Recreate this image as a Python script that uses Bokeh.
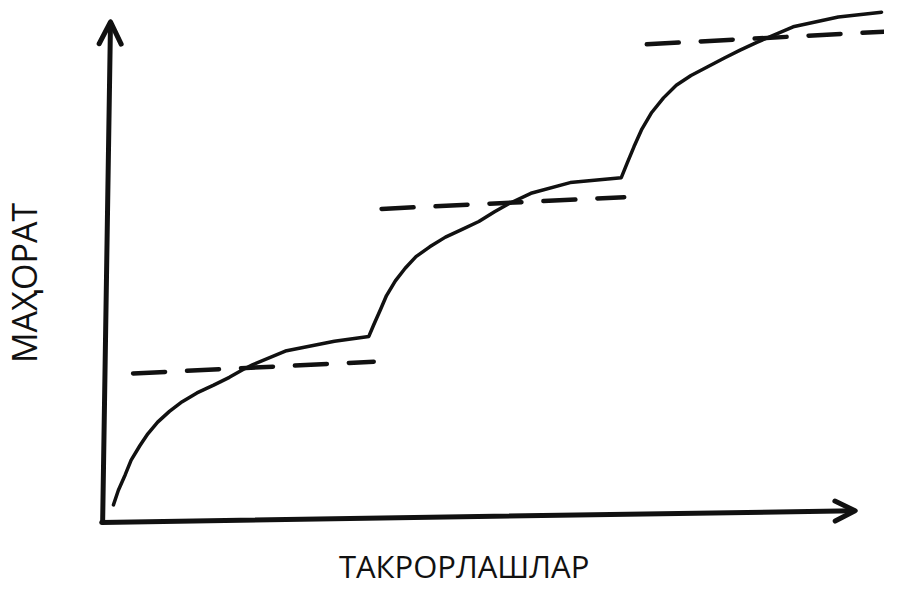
from bokeh.plotting import figure
from bokeh.models import Range1d, Arrow, OpenHead
from bokeh.core.properties import value
from bokeh.embed import file_html
from bokeh.resources import INLINE

# Learning curve (repetitions vs. skill)
curve_x = [12, 17, 24, 30, 39, 47, 57, 69, 82, 97, 114, 130, 144, 154, 187, 237, 272,
           277, 284, 290, 299, 309, 320, 334, 350, 367, 384, 400, 414, 437, 477, 529,
           535, 542, 550, 560, 572, 585, 600, 617, 634, 650, 667, 704, 750, 794]
curve_y = [17, 32, 48, 63, 78, 90, 102, 113, 123, 132, 140, 148, 156, 161, 175, 185, 190,
           202, 218, 232, 247, 260, 272, 282, 292, 300, 308, 318, 326, 337, 348, 353,
           368, 385, 403, 420, 435, 448, 458, 467, 476, 484, 492, 508, 518, 523]

# Plateau levels (dashed)
plateau_x0 = [32, 285, 555]
plateau_x1 = [277, 532, 797]
plateau_y0 = [152, 321, 490]
plateau_y1 = [164, 333, 503]

# Axes (hand-drawn, slightly tilted)
yaxis_start = (1, 0)
yaxis_end = (9, 513)
xaxis_start = (0, -1)
xaxis_end = (767, 11)

x_label = "ТАКРОРЛАШЛАР"
y_label = "МАҲОРАТ"
x_label_pos = (369, -46)
y_label_pos = (-79, 245)

INK = "#111111"

p = figure(width=884, height=593, output_backend="svg", toolbar_location=None,
           x_range=Range1d(-103, 797), y_range=Range1d(-74, 535),
           min_border=0, background_fill_color="white", border_fill_color="white")
p.axis.visible = False
p.grid.visible = False
p.outline_line_color = None

# axes with arrows
p.add_layout(Arrow(end=OpenHead(size=22, line_width=5, line_color=INK, line_cap="round", line_join="round"),
                   x_start=yaxis_start[0], y_start=yaxis_start[1], x_end=yaxis_end[0], y_end=yaxis_end[1],
                   line_width=5, line_color=INK, line_cap="round"))
p.add_layout(Arrow(end=OpenHead(size=20, line_width=5, line_color=INK, line_cap="round", line_join="round"),
                   x_start=xaxis_start[0], y_start=xaxis_start[1], x_end=xaxis_end[0], y_end=xaxis_end[1],
                   line_width=5, line_color=INK, line_cap="round"))

# plateaus
p.segment(x0=plateau_x0, y0=plateau_y0, x1=plateau_x1, y1=plateau_y1,
          line_width=4.5, line_color=INK, line_dash="32 22", line_cap="round")

# skill curve
p.line(curve_x, curve_y, line_width=3.5, line_color=INK, line_join="round", line_cap="round")

# labels
p.text(x=[x_label_pos[0]], y=[x_label_pos[1]], text=[x_label],
       text_font=value("Open Sans"), text_font_size="31px", text_color=INK,
       text_align="center", text_baseline="middle")
p.text(x=[y_label_pos[0]], y=[y_label_pos[1]], text=[y_label], angle=1.5708,
       text_font=value("Open Sans"), text_font_size="34px", text_color=INK,
       text_align="center", text_baseline="middle")

open("out.html", "w").write(file_html(p, INLINE))
